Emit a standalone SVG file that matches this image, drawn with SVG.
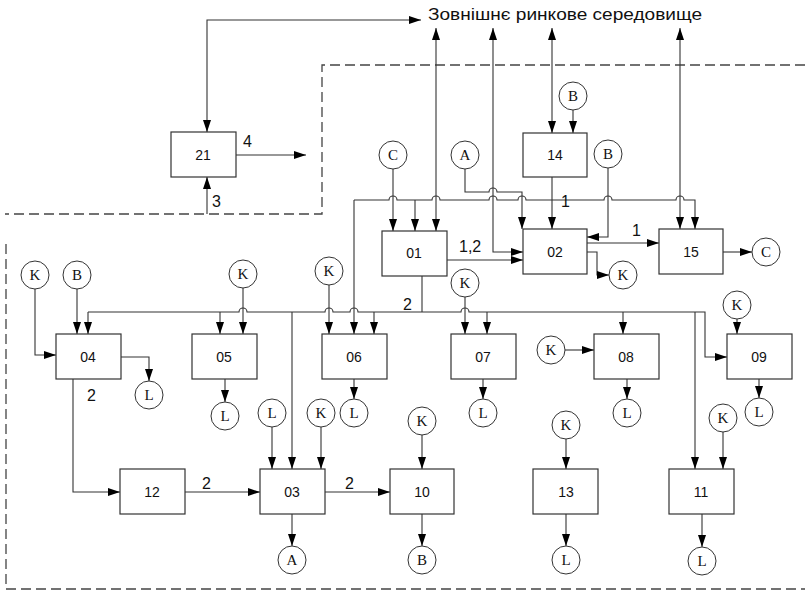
<svg xmlns="http://www.w3.org/2000/svg" width="805" height="591" viewBox="0 0 805 591">
<defs>
<marker id="a" viewBox="0 0 12 8" refX="12" refY="4" markerWidth="12" markerHeight="8" markerUnits="userSpaceOnUse" orient="auto-start-reverse"><path d="M0,0L12,4L0,8z" fill="#000"/></marker>
</defs>
<style>
.box{fill:#fff;stroke:#333;stroke-width:1.2}
.cir{fill:#fff;stroke:#333;stroke-width:1}
.bt{font-family:"Liberation Sans",Arial,sans-serif;font-size:14px;fill:#111;text-anchor:middle;dominant-baseline:central}
.ct{font-family:"Liberation Serif","Times New Roman",serif;font-size:15px;fill:#111;text-anchor:middle;dominant-baseline:central}
.lb{font-family:"Liberation Sans",Arial,sans-serif;font-size:16px;fill:#111}
.ln{fill:none;stroke:#333;stroke-width:1.1}
.ar{marker-end:url(#a)}
.da{marker-start:url(#a);marker-end:url(#a)}
.dash{fill:none;stroke:#444;stroke-width:1.3;stroke-dasharray:10,5}
</style>
<rect width="805" height="591" fill="#fff"/>
<g id="boundary">
<path class="dash" d="M805,65 H322 V214 H5"/>
<path class="dash" d="M6,244 V589 H805"/>
</g>
<text class="lb" x="428" y="20" textLength="274" lengthAdjust="spacingAndGlyphs">Зовнішнє ринкове середовище</text>
<g id="connectors">
<path class="ln da" d="M421,20 H207 V132"/>
<path class="ln ar" d="M207,214 V177"/>
<path class="ln ar" d="M236,155 H306"/>
<path class="ln da" d="M436,28 V231"/>
<path class="ln da" d="M493,28 V252 H523"/>
<path class="ln da" d="M552,28 V133"/>
<path class="ln da" d="M680,28 V229"/>
<path class="ln ar" d="M354,200 H389 a4,4 0 0 1 8,0 H432 a4,4 0 0 1 8,0 H489 a4,4 0 0 1 8,0 H518 a4,4 0 0 1 8,0 H604 a4,4 0 0 1 8,0 H676 a4,4 0 0 1 8,0 H695 V229"/>
<path class="ln ar" d="M415,200 V231"/>
<path class="ln ar" d="M354,200 V334"/>
<path class="ln ar" d="M393,169 V231"/>
<path class="ln ar" d="M465,169 V192 H489 a4,4 0 0 1 8,0 H522 V229"/>
<path class="ln ar" d="M573,110 V133"/>
<path class="ln ar" d="M552,177 V229"/>
<path class="ln ar" d="M608,168 V237 H587"/>
<path class="ln ar" d="M447,260 H523"/>
<path class="ln ar" d="M587,243 H659"/>
<path class="ln ar" d="M587,252 H597 V275 H609"/>
<path class="ln ar" d="M723,252 H752"/>
<path class="ln" d="M422,276 V312"/>
<path class="ln ar" d="M88,312 H239 a4,4 0 0 1 8,0 H325 a4,4 0 0 1 8,0 H350 a4,4 0 0 1 8,0 H461 a4,4 0 0 1 8,0 H705 V357 H727"/>
<path class="ln ar" d="M88,312 V334"/>
<path class="ln ar" d="M220,312 V334"/>
<path class="ln ar" d="M374,312 V334"/>
<path class="ln ar" d="M487,312 V334"/>
<path class="ln ar" d="M623,312 V334"/>
<path class="ln ar" d="M695,312 V469"/>
<path class="ln ar" d="M292,312 V469"/>
<path class="ln ar" d="M35,289 V355 H56"/>
<path class="ln ar" d="M77,289 V334"/>
<path class="ln ar" d="M121,357 H149 V381"/>
<path class="ln ar" d="M73,379 V492 H120"/>
<path class="ln ar" d="M243,288 V334"/>
<path class="ln ar" d="M225,379 V402"/>
<path class="ln ar" d="M329,285 V334"/>
<path class="ln ar" d="M354,379 V399"/>
<path class="ln ar" d="M465,297 V334"/>
<path class="ln ar" d="M483,379 V399"/>
<path class="ln ar" d="M565,350 H594"/>
<path class="ln ar" d="M627,379 V399"/>
<path class="ln ar" d="M737,319 V334"/>
<path class="ln ar" d="M759,379 V398"/>
<path class="ln ar" d="M272,427 V469"/>
<path class="ln ar" d="M321,427 V469"/>
<path class="ln ar" d="M185,492 H260"/>
<path class="ln ar" d="M325,492 H390"/>
<path class="ln ar" d="M292,514 V546"/>
<path class="ln ar" d="M422,435 V469"/>
<path class="ln ar" d="M422,514 V546"/>
<path class="ln ar" d="M566,439 V469"/>
<path class="ln ar" d="M566,514 V546"/>
<path class="ln ar" d="M723,432 V469"/>
<path class="ln ar" d="M702,514 V547"/>
<text class="lb" x="243" y="147">4</text>
<text class="lb" x="212" y="207">3</text>
<text class="lb" x="459" y="252">1,2</text>
<text class="lb" x="561" y="207">1</text>
<text class="lb" x="632" y="236">1</text>
<text class="lb" x="403" y="310">2</text>
<text class="lb" x="87" y="401">2</text>
<text class="lb" x="202" y="489">2</text>
<text class="lb" x="345" y="489">2</text>
</g>
<g id="n21"><rect class="box" x="171" y="132" width="65" height="45"/><text class="bt" x="203" y="155">21</text></g>
<g id="n14"><rect class="box" x="523" y="133" width="64" height="44"/><text class="bt" x="555" y="155">14</text></g>
<g id="n01"><rect class="box" x="382" y="231" width="65" height="45"/><text class="bt" x="414" y="253">01</text></g>
<g id="n02"><rect class="box" x="523" y="229" width="64" height="45"/><text class="bt" x="555" y="252">02</text></g>
<g id="n15"><rect class="box" x="659" y="229" width="64" height="45"/><text class="bt" x="691" y="252">15</text></g>
<g id="n04"><rect class="box" x="56" y="334" width="65" height="45"/><text class="bt" x="88" y="357">04</text></g>
<g id="n05"><rect class="box" x="192" y="334" width="65" height="45"/><text class="bt" x="224" y="357">05</text></g>
<g id="n06"><rect class="box" x="322" y="334" width="65" height="45"/><text class="bt" x="354" y="357">06</text></g>
<g id="n07"><rect class="box" x="451" y="334" width="65" height="45"/><text class="bt" x="483" y="357">07</text></g>
<g id="n08"><rect class="box" x="594" y="334" width="65" height="45"/><text class="bt" x="626" y="357">08</text></g>
<g id="n09"><rect class="box" x="727" y="334" width="65" height="45"/><text class="bt" x="759" y="357">09</text></g>
<g id="n12"><rect class="box" x="120" y="469" width="65" height="45"/><text class="bt" x="152" y="492">12</text></g>
<g id="n03"><rect class="box" x="260" y="469" width="65" height="45"/><text class="bt" x="292" y="492">03</text></g>
<g id="n10"><rect class="box" x="390" y="469" width="64" height="45"/><text class="bt" x="422" y="492">10</text></g>
<g id="n13"><rect class="box" x="533" y="469" width="65" height="45"/><text class="bt" x="566" y="492">13</text></g>
<g id="n11"><rect class="box" x="669" y="469" width="65" height="45"/><text class="bt" x="701" y="492">11</text></g>
<g id="c_B14"><circle class="cir" cx="573" cy="96" r="14"/><text class="ct" x="573" y="96">B</text></g>
<g id="c_C01"><circle class="cir" cx="393" cy="155" r="14"/><text class="ct" x="393" y="155">C</text></g>
<g id="c_A02"><circle class="cir" cx="465" cy="155" r="14"/><text class="ct" x="465" y="155">A</text></g>
<g id="c_B02"><circle class="cir" cx="608" cy="154" r="14"/><text class="ct" x="608" y="154">B</text></g>
<g id="c_C15"><circle class="cir" cx="766" cy="252" r="14"/><text class="ct" x="766" y="252">C</text></g>
<g id="c_K02"><circle class="cir" cx="623" cy="275" r="14"/><text class="ct" x="623" y="275">K</text></g>
<g id="c_K04"><circle class="cir" cx="35" cy="275" r="14"/><text class="ct" x="35" y="275">K</text></g>
<g id="c_B04"><circle class="cir" cx="77" cy="275" r="14"/><text class="ct" x="77" y="275">B</text></g>
<g id="c_L04"><circle class="cir" cx="149" cy="395" r="14"/><text class="ct" x="149" y="395">L</text></g>
<g id="c_K05"><circle class="cir" cx="243" cy="274" r="14"/><text class="ct" x="243" y="274">K</text></g>
<g id="c_L05"><circle class="cir" cx="225" cy="416" r="14"/><text class="ct" x="225" y="416">L</text></g>
<g id="c_K06"><circle class="cir" cx="329" cy="271" r="14"/><text class="ct" x="329" y="271">K</text></g>
<g id="c_L06"><circle class="cir" cx="354" cy="413" r="14"/><text class="ct" x="354" y="413">L</text></g>
<g id="c_K07"><circle class="cir" cx="465" cy="283" r="14"/><text class="ct" x="465" y="283">K</text></g>
<g id="c_L07"><circle class="cir" cx="483" cy="413" r="14"/><text class="ct" x="483" y="413">L</text></g>
<g id="c_K08"><circle class="cir" cx="551" cy="350" r="14"/><text class="ct" x="551" y="350">K</text></g>
<g id="c_L08"><circle class="cir" cx="627" cy="413" r="14"/><text class="ct" x="627" y="413">L</text></g>
<g id="c_K09"><circle class="cir" cx="737" cy="305" r="14"/><text class="ct" x="737" y="305">K</text></g>
<g id="c_L09"><circle class="cir" cx="759" cy="412" r="14"/><text class="ct" x="759" y="412">L</text></g>
<g id="c_L03"><circle class="cir" cx="272" cy="413" r="14"/><text class="ct" x="272" y="413">L</text></g>
<g id="c_K03"><circle class="cir" cx="321" cy="413" r="14"/><text class="ct" x="321" y="413">K</text></g>
<g id="c_A03"><circle class="cir" cx="292" cy="560" r="14"/><text class="ct" x="292" y="560">A</text></g>
<g id="c_K10"><circle class="cir" cx="422" cy="421" r="14"/><text class="ct" x="422" y="421">K</text></g>
<g id="c_B10"><circle class="cir" cx="422" cy="560" r="14"/><text class="ct" x="422" y="560">B</text></g>
<g id="c_K13"><circle class="cir" cx="566" cy="425" r="14"/><text class="ct" x="566" y="425">K</text></g>
<g id="c_L13"><circle class="cir" cx="566" cy="560" r="14"/><text class="ct" x="566" y="560">L</text></g>
<g id="c_K11"><circle class="cir" cx="723" cy="418" r="14"/><text class="ct" x="723" y="418">K</text></g>
<g id="c_L11"><circle class="cir" cx="702" cy="561" r="14"/><text class="ct" x="702" y="561">L</text></g>
</svg>
